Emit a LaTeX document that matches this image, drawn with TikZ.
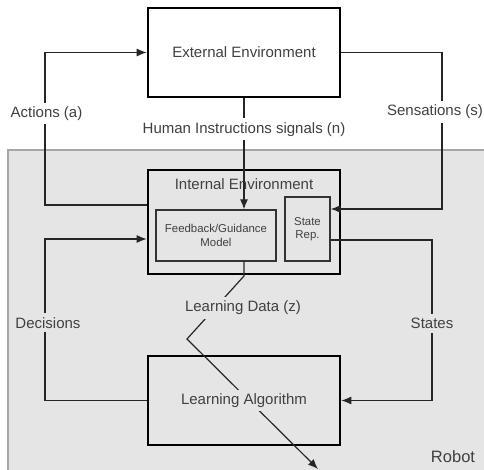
\documentclass[tikz,border=0pt]{standalone}
\usepackage{fontspec}
\setmainfont{Liberation Sans}
\usetikzlibrary{arrows.meta}
\definecolor{robotgray}{HTML}{E5E5E5}

\begin{document}
\begin{tikzpicture}
    [x=1pt,y=-1pt,
     txt/.style={text=black!75,font=\fontsize{15}{18}\selectfont},
     bigbox/.style={rectangle,draw=black,line width=2.6pt,minimum width=192pt,txt},
     smallbox/.style={rectangle,draw=black!80,line width=1.3pt,text=black!75,align=center,
       font=\fontsize{11.4}{13.5}\selectfont},
     lbl/.style={txt,fill=white,inner sep=4pt},
     glbl/.style={lbl,fill=robotgray},
     wire/.style={draw=black!85,line width=1.2pt},
     arr/.style={wire,-{Latex[length=10pt,width=8pt]}}]
    \useasboundingbox (0,0) rectangle (484,470);
    \filldraw[fill=robotgray,draw=black!35,line width=2pt] (8,150) rectangle (490,476);
    \node[txt,font=\fontsize{16.5}{19}\selectfont] (robot) at (453,457) {Robot};

    \node[bigbox,minimum height=89pt] (extenv) at (244,52.5) {External Environment};
    \node[bigbox,minimum height=104pt] (intenv) at (244,222) {};
    \node[txt] (inttitle) at (244,184) {Internal Environment};
    \node[smallbox,minimum width=120pt,minimum height=51pt] (feedback) at (216,235.5) {Feedback/Guidance\\Model};
    \node[smallbox,minimum width=45pt,minimum height=64pt] (staterep) at (307.5,229) {State\\Rep.};
    \node[bigbox,minimum height=89pt] (learnalg) at (244,400.5) {};

    \coordinate (lcol) at (45,0);
    \coordinate (rcol) at (442,0);
    \coordinate (scol) at (432,0);
    \coordinate (sensin) at ([yshift=20pt]staterep.east);
    \coordinate (decin) at ([yshift=-17pt]intenv.west);
    \coordinate (stout) at ([yshift=-11pt]staterep.east);

    \draw[arr] ([yshift=17pt]intenv.west) -| node[lbl,pos=0.8,xshift=1.5pt] {Actions (a)} (lcol |- extenv.west) -- (extenv.west);
    \draw[arr] (extenv.east) -| node[lbl,pos=0.69,xshift=-7pt] {Sensations (s)} (rcol |- sensin) -- (sensin);
    \draw[arr] (extenv.south) -- node[lbl,pos=0.28] {Human Instructions signals (n)} (extenv.south |- feedback.north);
    \draw[arr] (learnalg.west) -| node[glbl,pos=0.74,xshift=3pt] {Decisions} (lcol |- decin) -- (decin);
    \draw[arr] (stout) -| node[glbl,pos=0.76] {States} (scol |- learnalg.east) -- (learnalg.east);

    \coordinate (ldbend) at (244,276);
    \coordinate (ldknee) at (187,339);
    \coordinate (ldend) at (318,469);
    \draw[arr] (feedback.south -| extenv.south) -- (ldbend) -- (ldknee) -- (ldend);
    \node[glbl] (ldlabel) at (243,308) {Learning Data (z)};
    \node[glbl] (latext) at (learnalg.center) {Learning Algorithm};
\end{tikzpicture}
\end{document}
